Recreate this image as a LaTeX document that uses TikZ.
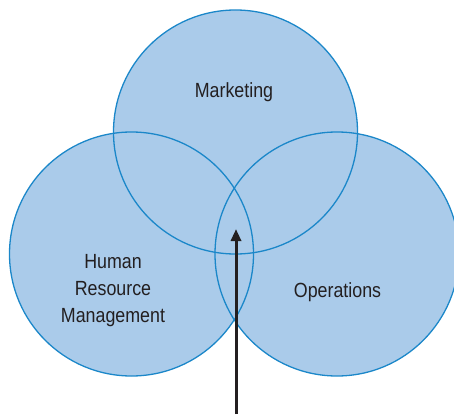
\documentclass[tikz,border=0pt]{standalone}
\usepackage{fontspec}
\setmainfont{Liberation Sans}[FakeStretch=0.87]
\usetikzlibrary{arrows.meta}
\definecolor{setfill}{HTML}{AACBEA}
\definecolor{setline}{HTML}{1B87C9}
\definecolor{ink}{HTML}{231F20}
\begin{document}
\begin{tikzpicture}[x=1pt,y=-1pt,
  setcircle/.style={circle, minimum size=244pt, inner sep=0pt},
  label/.style={text=ink, font=\fontsize{20.5}{27}\selectfont, align=center}]
\useasboundingbox (0,0) rectangle (454,414);
% the three overlapping sets
\node[setcircle, fill=setfill] (mkt) at (235.5,132) {};
\node[setcircle, fill=setfill] (hrm) at (131.5,254) {};
\node[setcircle, fill=setfill] (ops) at (337,254) {};
\foreach \c in {mkt,hrm,ops}
  \draw[setline, line width=1.3pt] (\c) circle (122pt);
% set names
\node[label] (tm) at (234,92) {Marketing};
\node[label] (th) at (113,291) {Human\\Resource\\Management};
\node[label] (to) at (337.5,292) {Operations};
% pointer into the common intersection
\coordinate (base) at (236,414);
\coordinate (core) at (236,229);
\draw[ink, line width=3pt, -{Triangle[length=12pt,width=10pt]}] (base) -- (core);
\end{tikzpicture}
\end{document}
